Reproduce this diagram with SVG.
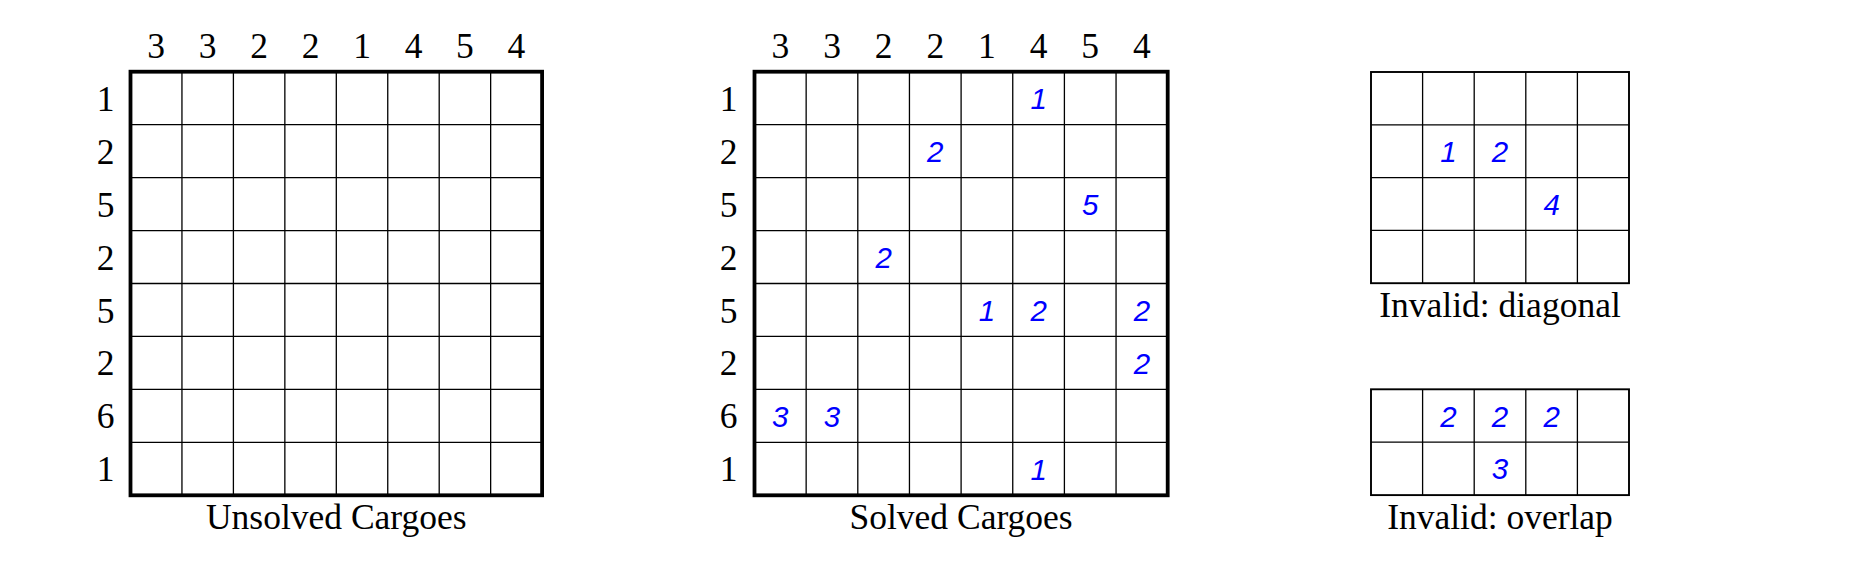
<svg xmlns="http://www.w3.org/2000/svg" width="1850" height="578" viewBox="0 0 1850 578">
<style>
.thin{fill:none;stroke:#000;stroke-width:1.3}
.thick{fill:none;stroke:#000;stroke-width:3.8}
.sb{fill:none;stroke:#000;stroke-width:1.9}
.lbl{font-family:"Liberation Serif","Times New Roman",serif;font-size:35.5px;fill:#000;text-anchor:middle}
.num{font-family:"Liberation Sans",Arial,sans-serif;font-style:italic;font-size:29.5px;fill:#0000ff;text-anchor:middle}
</style>
<rect width="1850" height="578" fill="#fff"/>
<g id="unsolved">
<path class="thin" d="M181.95 71.7V495.3M233.4 71.7V495.3M284.85 71.7V495.3M336.3 71.7V495.3M387.75 71.7V495.3M439.2 71.7V495.3M490.65 71.7V495.3M130.5 124.65H542.1M130.5 177.6H542.1M130.5 230.55H542.1M130.5 283.5H542.1M130.5 336.45H542.1M130.5 389.4H542.1M130.5 442.35H542.1"/>
<rect class="thick" x="130.5" y="71.7" width="411.6" height="423.6"/>
<g class="lbl">
<text x="156.2" y="57.5">3</text><text x="207.7" y="57.5">3</text><text x="259.1" y="57.5">2</text><text x="310.6" y="57.5">2</text><text x="362" y="57.5">1</text><text x="413.5" y="57.5">4</text><text x="464.9" y="57.5">5</text><text x="516.4" y="57.5">4</text>
<text x="105.5" y="110.7">1</text><text x="105.5" y="163.6">2</text><text x="105.5" y="216.6">5</text><text x="105.5" y="269.5">2</text><text x="105.5" y="322.5">5</text><text x="105.5" y="375.4">2</text><text x="105.5" y="428.4">6</text><text x="105.5" y="481.3">1</text>
<text x="336.3" y="529.3">Unsolved Cargoes</text>
</g>
</g>
<g id="solved">
<path class="thin" d="M806.15 71.7V495.3M857.8 71.7V495.3M909.45 71.7V495.3M961.1 71.7V495.3M1012.75 71.7V495.3M1064.4 71.7V495.3M1116.05 71.7V495.3M754.5 124.65H1167.7M754.5 177.6H1167.7M754.5 230.55H1167.7M754.5 283.5H1167.7M754.5 336.45H1167.7M754.5 389.4H1167.7M754.5 442.35H1167.7"/>
<rect class="thick" x="754.5" y="71.7" width="413.2" height="423.6"/>
<g class="lbl">
<text x="780.3" y="57.5">3</text><text x="832" y="57.5">3</text><text x="883.6" y="57.5">2</text><text x="935.3" y="57.5">2</text><text x="986.9" y="57.5">1</text><text x="1038.6" y="57.5">4</text><text x="1090.2" y="57.5">5</text><text x="1141.9" y="57.5">4</text>
<text x="728.5" y="110.7">1</text><text x="728.5" y="163.6">2</text><text x="728.5" y="216.6">5</text><text x="728.5" y="269.5">2</text><text x="728.5" y="322.5">5</text><text x="728.5" y="375.4">2</text><text x="728.5" y="428.4">6</text><text x="728.5" y="481.3">1</text>
<text x="961.1" y="529.3">Solved Cargoes</text>
</g>
<g class="num">
<text x="1038.6" y="109">1</text>
<text x="935.3" y="161.9">2</text>
<text x="1090.2" y="214.9">5</text>
<text x="883.6" y="267.8">2</text>
<text x="986.9" y="320.8">1</text><text x="1038.6" y="320.8">2</text><text x="1141.9" y="320.8">2</text>
<text x="1141.9" y="373.7">2</text>
<text x="780.3" y="426.7">3</text><text x="832" y="426.7">3</text>
<text x="1038.6" y="479.6">1</text>
</g>
</g>
<g id="invalid-diagonal">
<path class="thin" d="M1422.6 72V283.2M1474.2 72V283.2M1525.8 72V283.2M1577.4 72V283.2M1371 124.8H1629M1371 177.6H1629M1371 230.4H1629"/>
<rect class="sb" x="1371" y="72" width="258" height="211.2"/>
<g class="num">
<text x="1448.4" y="161.9">1</text><text x="1500" y="161.9">2</text><text x="1551.6" y="214.7">4</text>
</g>
<text class="lbl" x="1500" y="317">Invalid: diagonal</text>
</g>
<g id="invalid-overlap">
<path class="thin" d="M1422.6 389.3V495.1M1474.2 389.3V495.1M1525.8 389.3V495.1M1577.4 389.3V495.1M1371 442.2H1629"/>
<rect class="sb" x="1371" y="389.3" width="258" height="105.8"/>
<g class="num">
<text x="1448.4" y="426.5">2</text><text x="1500" y="426.5">2</text><text x="1551.6" y="426.5">2</text><text x="1500" y="479.4">3</text>
</g>
<text class="lbl" x="1500" y="529.3">Invalid: overlap</text>
</g>
<g id="connectors"></g>
</svg>
